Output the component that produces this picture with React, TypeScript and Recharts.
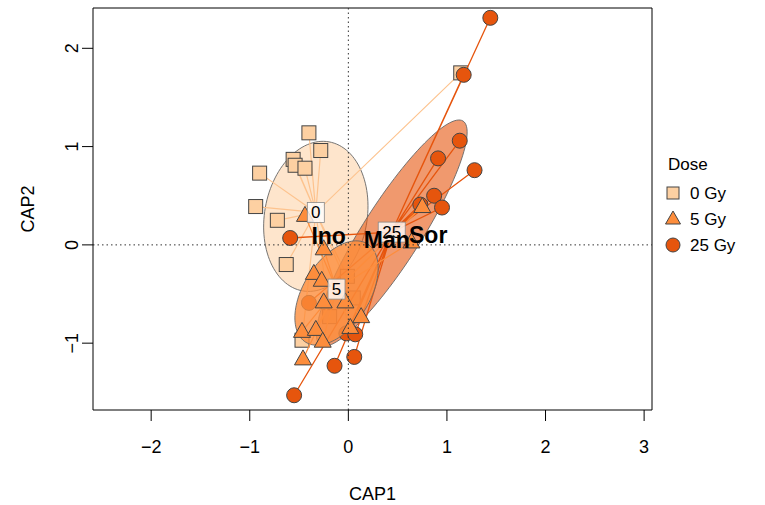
import React from 'react';
import { ScatterChart, Scatter, XAxis, YAxis, ReferenceLine, ReferenceArea } from 'recharts';

const doseLabels = ['0 Gy', '5 Gy', '25 Gy'];
const doseColors = ['#FDD0A2', '#FD8D3C', '#E6550D'];
const spiderColors = ['#FDC38E', '#FD8D3C', '#E6550D'];

const xTicks = [-2, -1, 0, 1, 2, 3];
const yTicks = [-1, 0, 1, 2];
const X_MIN = -2.59;
const X_MAX = 3.08;
const Y_MIN = -1.68;
const Y_MAX = 2.41;

// CAP scores
const gy0 = [
  { x: -0.40, y: 1.14 }, { x: -0.28, y: 0.96 }, { x: -0.56, y: 0.87 }, { x: -0.54, y: 0.81 },
  { x: -0.44, y: 0.78 }, { x: -0.90, y: 0.73 }, { x: -0.94, y: 0.39 }, { x: -0.72, y: 0.25 },
  { x: -0.63, y: -0.20 }, { x: -0.01, y: -0.32 }, { x: 0.05, y: -0.54 }, { x: -0.19, y: -0.73 },
  { x: -0.47, y: -0.97 }, { x: 1.14, y: 1.75 },
];
const gy5 = [
  { x: -0.25, y: -0.04 }, { x: -0.35, y: -0.29 }, { x: -0.27, y: -0.36 }, { x: -0.25, y: -0.58 },
  { x: -0.03, y: -0.58 }, { x: 0.13, y: -0.73 }, { x: 0.02, y: -0.84 }, { x: -0.47, y: -0.88 },
  { x: -0.33, y: -0.86 }, { x: -0.26, y: -0.98 }, { x: -0.46, y: -1.16 }, { x: -0.44, y: 0.30 },
  { x: 0.75, y: 0.39 }, { x: 0.64, y: 0.03 },
];
const gy25 = [
  { x: 1.44, y: 2.31 }, { x: 1.17, y: 1.73 }, { x: 1.13, y: 1.06 }, { x: 0.91, y: 0.88 },
  { x: 1.28, y: 0.76 }, { x: 0.87, y: 0.50 }, { x: 0.73, y: 0.41 }, { x: 0.95, y: 0.38 },
  { x: -0.59, y: 0.07 }, { x: -0.02, y: -0.90 }, { x: 0.07, y: -0.91 }, { x: 0.06, y: -1.14 },
  { x: -0.14, y: -1.23 }, { x: -0.55, y: -1.53 }, { x: -0.40, y: -0.59 },
];

const centroids = [
  { x: -0.33, y: 0.33, label: '0' },
  { x: -0.12, y: -0.45, label: '5' },
  { x: 0.44, y: 0.13, label: '25' },
];

// ellipse centre, semi axes (CAP units) and tilt in degrees
const ellipses = [
  { cx: -0.33, cy: 0.29, a: 0.77, b: 0.52, angle: 80 },
  { cx: -0.12, cy: -0.49, a: 0.59, b: 0.335, angle: 58 },
  { cx: 0.44, cy: 0.12, a: 1.35, b: 0.295, angle: 57.6 },
];
const ellipseOpacity = [0.55, 0.8, 0.6];

const sites = [
  { x: -0.20, y: 0.09, label: 'Ino' },
  { x: 0.39, y: 0.05, label: 'Man' },
  { x: 0.81, y: 0.10, label: 'Sor' },
];

const font = '"Liberation Sans", Arial, Helvetica, sans-serif';
const edge = '#444';

const spider = (c: { x: number; y: number }, pts: { x: number; y: number }[]) =>
  pts.flatMap((p) => [{ x: c.x, y: c.y }, p]);

const ellipseShape = (i: number) => (props: any) => {
  const e = ellipses[i];
  const { x, y, width, height } = props;
  const kx = width / 2;
  const ky = height / 2;
  const pcx = x + kx;
  const pcy = y + ky;
  const th = (e.angle * Math.PI) / 180;
  let d = '';
  for (let k = 0; k <= 120; k++) {
    const t = (k / 120) * 2 * Math.PI;
    const dx = e.a * Math.cos(th) * Math.cos(t) - e.b * Math.sin(th) * Math.sin(t);
    const dy = e.a * Math.sin(th) * Math.cos(t) + e.b * Math.cos(th) * Math.sin(t);
    d += (k ? 'L' : 'M') + (pcx + dx * kx).toFixed(2) + ',' + (pcy - dy * ky).toFixed(2);
  }
  return (
    <path d={d + 'Z'} fill={doseColors[i]} fillOpacity={ellipseOpacity[i]} stroke="#666" strokeWidth={0.9} />
  );
};

const Square = (props: any) => (
  <rect x={props.cx - 7} y={props.cy - 7} width={14} height={14} fill={doseColors[0]} stroke={edge} strokeWidth={1} />
);
const Triangle = (props: any) => (
  <polygon
    points={`${props.cx},${props.cy - 9} ${props.cx - 8.5},${props.cy + 6} ${props.cx + 8.5},${props.cy + 6}`}
    fill={doseColors[1]}
    stroke={edge}
    strokeWidth={1}
  />
);
const Circle = (props: any) => (
  <circle cx={props.cx} cy={props.cy} r={7.5} fill={doseColors[2]} stroke={edge} strokeWidth={1} />
);
const Nothing = () => <g />;

const CentroidBox = (props: any) => {
  const label = props.payload.label;
  const w = label.length * 10 + 7;
  return (
    <g>
      <rect x={props.cx - w / 2} y={props.cy - 10} width={w} height={20} fill="#fff" fillOpacity={0.8} stroke="#888" strokeWidth={0.8} />
      <text x={props.cx} y={props.cy + 6} textAnchor="middle" fontSize={17} fontFamily={font} fill="#000">
        {label}
      </text>
    </g>
  );
};

const SiteLabel = (props: any) => (
  <text x={props.cx} y={props.cy + 8} textAnchor="middle" fontSize={23} fontWeight="bold" fontFamily={font} fill="#000">
    {props.payload.label}
  </text>
);

const fmt = (v: number) => (v < 0 ? '\u2212' + Math.abs(v) : String(v));

const YTick = (props: any) => {
  const { x, y, payload } = props;
  return (
    <text x={x} y={y} dy="0.35em" transform={`rotate(-90 ${x} ${y})`} textAnchor="middle" fontSize={18} fontFamily={font} fill="#000">
      {fmt(payload.value)}
    </text>
  );
};

const Legend = () => (
  <svg width={765} height={505} style={{ position: 'absolute', left: 0, top: 0, pointerEvents: 'none' }}>
    <text x={668} y={170} fontSize={17} fontFamily={font} fill="#000">Dose</text>
    {doseLabels.map((lab, i) => {
      const cy = 193 + i * 26;
      return (
        <g key={lab}>
          {i === 0 && <rect x={667} y={cy - 6} width={12} height={12} fill={doseColors[0]} stroke={edge} />}
          {i === 1 && <polygon points={`673,${cy - 8} 665.5,${cy + 5} 680.5,${cy + 5}`} fill={doseColors[1]} stroke={edge} />}
          {i === 2 && <circle cx={673} cy={cy} r={7} fill={doseColors[2]} stroke={edge} />}
          <text x={690} y={cy + 6} fontSize={17} fontFamily={font} fill="#000">{lab}</text>
        </g>
      );
    })}
  </svg>
);

export default function App() {
  return (
    <div style={{ position: 'absolute', left: 0, top: 0, width: 765, height: 505, background: '#fff' }}>
      <ScatterChart width={765} height={505} margin={{ top: 8, right: 113, bottom: 0, left: 0 }}>
        <XAxis
          type="number"
          dataKey="x"
          domain={[X_MIN, X_MAX]}
          allowDataOverflow
          ticks={xTicks}
          tickFormatter={fmt}
          height={95}
          tickSize={11}
          tickMargin={19}
          stroke="#000"
          tick={{ fill: '#000', fontSize: 18, fontFamily: font }}
          label={{
            content: (p: any) => (
              <text x={p.viewBox.x + p.viewBox.width / 2} y={500} textAnchor="middle" fontSize={18} fontFamily={font} fill="#000">
                CAP1
              </text>
            ),
          }}
        />
        <YAxis
          type="number"
          dataKey="y"
          domain={[Y_MIN, Y_MAX]}
          allowDataOverflow
          ticks={yTicks}
          width={93}
          tickSize={11}
          tickMargin={10}
          stroke="#000"
          tick={YTick}
          label={{
            content: (p: any) => {
              const cy = p.viewBox.y + p.viewBox.height / 2;
              return (
                <text x={28} y={cy} dy="0.35em" transform={`rotate(-90 28 ${cy})`} textAnchor="middle" fontSize={18} fontFamily={font} fill="#000">
                  CAP2
                </text>
              );
            },
          }}
        />
        <ReferenceLine x={X_MAX} stroke="#000" zIndex={405} />
        <ReferenceLine y={Y_MAX} stroke="#000" zIndex={405} />

        <ReferenceArea x1={ellipses[0].cx - 1} x2={ellipses[0].cx + 1} y1={ellipses[0].cy - 1} y2={ellipses[0].cy + 1} ifOverflow="visible" shape={ellipseShape(0)} zIndex={410} />
        <Scatter data={spider(centroids[0], gy0)} line={{ stroke: spiderColors[0], strokeWidth: 1.2 }} lineType="joint" shape={Nothing} isAnimationActive={false} zIndex={420} />
        <Scatter data={gy0} shape={Square} isAnimationActive={false} zIndex={430} />

        <ReferenceArea x1={ellipses[2].cx - 1} x2={ellipses[2].cx + 1} y1={ellipses[2].cy - 1} y2={ellipses[2].cy + 1} ifOverflow="visible" shape={ellipseShape(2)} zIndex={440} />
        <Scatter data={spider(centroids[2], gy25)} line={{ stroke: spiderColors[2], strokeWidth: 1.3 }} lineType="joint" shape={Nothing} isAnimationActive={false} zIndex={450} />
        <Scatter data={gy25} shape={Circle} isAnimationActive={false} zIndex={460} />

        <ReferenceArea x1={ellipses[1].cx - 1} x2={ellipses[1].cx + 1} y1={ellipses[1].cy - 1} y2={ellipses[1].cy + 1} ifOverflow="visible" shape={ellipseShape(1)} zIndex={470} />
        <Scatter data={spider(centroids[1], gy5)} line={{ stroke: spiderColors[1], strokeWidth: 1.2 }} lineType="joint" shape={Nothing} isAnimationActive={false} zIndex={480} />
        <Scatter data={gy5} shape={Triangle} isAnimationActive={false} zIndex={490} />

        <ReferenceLine x={0} stroke="#333" strokeDasharray="1.5 3" zIndex={495} />
        <ReferenceLine y={0} stroke="#333" strokeDasharray="1.5 3" zIndex={495} />

        <Scatter data={centroids} shape={CentroidBox} isAnimationActive={false} zIndex={500} />
        <Scatter data={sites} shape={SiteLabel} isAnimationActive={false} zIndex={510} />
      </ScatterChart>
      <Legend />
    </div>
  );
}
